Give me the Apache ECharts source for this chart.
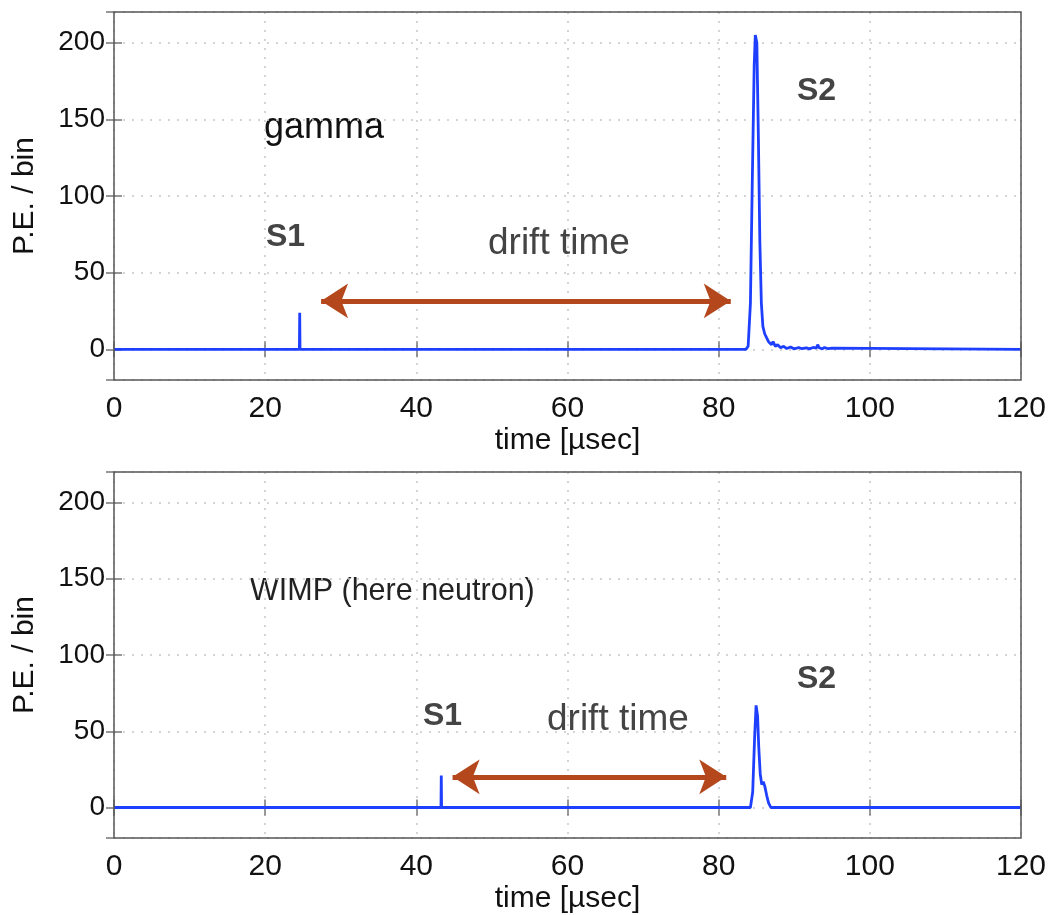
<!DOCTYPE html>
<html>
<head>
<meta charset="utf-8">
<script src="https://cdn.jsdelivr.net/npm/echarts@6/dist/echarts.min.js"></script>
<style>
html,body{margin:0;padding:0;background:#fff;}
#chart{width:1051px;height:915px;}
</style>
</head>
<body>
<div id="chart"></div>
<script>
// ---- data ----
const topTime = [0, 24.53, 24.57, 24.61, 83.6, 83.9, 84.2, 84.45, 84.7, 84.85, 85.05, 85.25, 85.45, 85.65, 85.85, 86.1, 86.4, 86.6, 86.8, 87.0, 87.2, 87.5, 87.8, 88.2, 88.6, 89.0, 89.5, 90.0, 90.6, 91.0, 91.6, 92.0, 92.5, 92.9, 93.1, 93.3, 93.7, 94.0, 94.5, 95.0, 95.2, 120];
const topPE   = [0, 0,     23.8,  0,     0,    2,    30,   110,   185,  205,   200,   140,   70,    30,    15,    10,   7,    5,    6,    3,    5,    2,    3,    1,    2,    0.5,  1.5,  0.3,  1.2,  0.4,  1,    0.3,  1.2,  0.8,  3,    1,    0.3,  1.2,  0.4,  0.8,  0,    0];
const botTime = [0, 43.26, 43.3, 43.34, 84.2, 84.5, 84.75, 84.95, 85.15, 85.3, 85.5, 85.7, 85.9, 86.1, 86.35, 86.6, 86.9, 120];
const botPE   = [0, 0,     21,   0,     0,    10,   45,    67,    60,    40,   22,   15,   17,   14,   8,     3,    0,    0];
const yTicks = [0, 50, 100, 150, 200];
const topArrow = [27.4, 81.6, 31.6];   // x from, x to, y
const botArrow = [44.8, 81.0, 20.1];

const pair = (t, v) => t.map((x, i) => [x, v[i]]);

const FONT = '"Liberation Sans", Arial, sans-serif';
const LINE_COLOR = '#1f3fff';
const ARROW_COLOR = '#b5471d';

function xAxes(gi) {
  return [
    {
      type: 'value', gridIndex: gi, min: 0, max: 120, interval: 20, position: 'bottom',
      name: 'time [µsec]', nameLocation: 'middle', nameGap: 46,
      nameTextStyle: {fontFamily: FONT, fontSize: 30, color: '#111'},
      axisLine: {show: false},
      axisTick: {show: true, inside: true, length: 8, lineStyle: {color: '#777', width: 1.5}},
      axisLabel: {fontFamily: FONT, fontSize: 30, color: '#111', margin: 14},
      splitLine: {show: true, lineStyle: {color: '#c8c8c8', type: [2, 7], width: 1.5}}
    },
    {
      type: 'value', gridIndex: gi, min: 0, max: 120, interval: 20, position: 'top',
      axisLine: {show: false},
      axisTick: {show: true, inside: true, length: 8, lineStyle: {color: '#777', width: 1.5}},
      axisLabel: {show: false}, splitLine: {show: false}
    }
  ];
}
function yAxes(gi) {
  return [
    {
      type: 'value', gridIndex: gi, min: -20, max: 220, splitNumber: 5, position: 'left',
      name: 'P.E. / bin', nameLocation: 'middle', nameGap: 74, nameRotate: 90,
      nameTextStyle: {fontFamily: FONT, fontSize: 30, color: '#111'},
      axisLine: {show: false},
      axisTick: {show: true, inside: true, length: 8, lineStyle: {color: '#777', width: 1.5}},
      axisLabel: {fontFamily: FONT, fontSize: 28, color: '#111', margin: 9, showMinLabel: false, showMaxLabel: false,
        formatter: v => (yTicks.indexOf(v) >= 0 ? String(v) : '')},
      splitLine: {show: true, lineStyle: {color: '#c8c8c8', type: [2, 7], width: 1.5}}
    },
    {
      type: 'value', gridIndex: gi, min: -20, max: 220, splitNumber: 5, position: 'right',
      axisLine: {show: false},
      axisTick: {show: true, inside: true, length: 8, lineStyle: {color: '#777', width: 1.5}},
      axisLabel: {show: false}, splitLine: {show: false}
    }
  ];
}

function arrowLine(a) {
  return {
    silent: true, animation: false,
    symbol: ['arrow', 'arrow'], symbolSize: [26, 27],
    lineStyle: {color: ARROW_COLOR, width: 5, type: 'solid'},
    itemStyle: {color: ARROW_COLOR},
    label: {show: false},
    emphasis: {disabled: true},
    data: [[{coord: [a[0], a[2]]}, {coord: [a[1], a[2]]}]]
  };
}

function txt(x, y, text, size, weight, color) {
  return {
    type: 'text', x: x, y: y, silent: true,
    style: {text: text, font: (weight || 'normal') + ' ' + size + 'px ' + FONT, fill: color, textVerticalAlign: 'middle', textAlign: 'left'}
  };
}

const chart = echarts.init(document.getElementById('chart'), null, {renderer: 'canvas'});
chart.setOption({
  animation: false,
  backgroundColor: '#fff',
  grid: [
    {left: 114, top: 12, width: 907, height: 368, show: true, z: 5, borderColor: '#555', borderWidth: 1.5, backgroundColor: 'transparent'},
    {left: 114, top: 472, width: 907, height: 368, show: true, z: 5, borderColor: '#555', borderWidth: 1.5, backgroundColor: 'transparent'}
  ],
  xAxis: [...xAxes(0), ...xAxes(1)],
  yAxis: [...yAxes(0), ...yAxes(1)],
  series: [
    {
      type: 'line', xAxisIndex: 0, yAxisIndex: 0, data: pair(topTime, topPE),
      showSymbol: false, lineStyle: {color: LINE_COLOR, width: 2.8}, itemStyle: {color: LINE_COLOR},
      markLine: arrowLine(topArrow)
    },
    {
      type: 'line', xAxisIndex: 2, yAxisIndex: 2, data: pair(botTime, botPE),
      showSymbol: false, lineStyle: {color: LINE_COLOR, width: 2.8}, itemStyle: {color: LINE_COLOR},
      markLine: arrowLine(botArrow)
    }
  ],
  graphic: [
    txt(264, 128, 'gamma', 36, 'normal', '#111'),
    txt(266, 237, 'S1', 32, 'bold', '#444'),
    txt(488, 244, 'drift time', 37, 'normal', '#444'),
    txt(797, 91, 'S2', 32, 'bold', '#444'),
    txt(250, 592, 'WIMP (here neutron)', 30.5, 'normal', '#222'),
    txt(423, 716, 'S1', 32, 'bold', '#444'),
    txt(547, 720, 'drift time', 37, 'normal', '#444'),
    txt(797, 679, 'S2', 32, 'bold', '#444')
  ]
});
</script>
</body>
</html>
